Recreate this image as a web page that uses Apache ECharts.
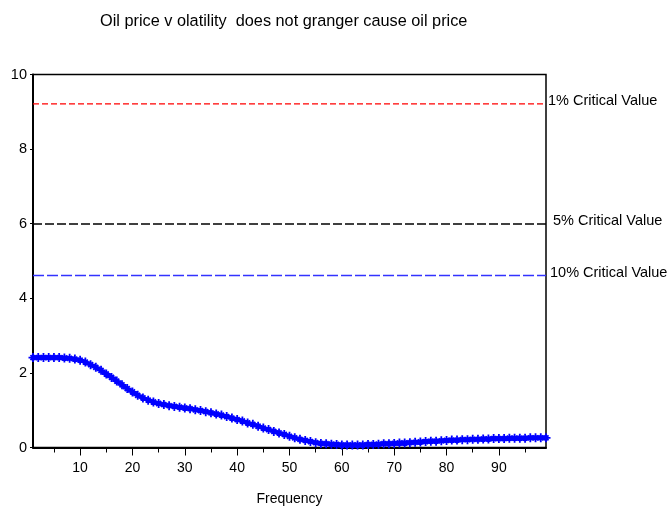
<!DOCTYPE html>
<html>
<head>
<meta charset="utf-8">
<script src="https://cdn.jsdelivr.net/npm/echarts@6/dist/echarts.min.js"></script>
<style>
html,body{margin:0;padding:0;background:#fff;}
#c{width:667px;height:511px;}
</style>
</head>
<body>
<div id="c"></div>
<script>
var titleText = 'Oil price v olatility  does not granger cause oil price';
var xName = 'Frequency';
var frequency = [];
for (var i = 1; i <= 99; i++) frequency.push(i);
var statValues = [
  2.41, 2.41, 2.41, 2.41, 2.41, 2.41, 2.40, 2.39, 2.37, 2.34,
  2.29, 2.22, 2.15, 2.07, 1.97, 1.88, 1.78, 1.68, 1.58, 1.49,
  1.40, 1.33, 1.27, 1.22, 1.18, 1.15, 1.12, 1.10, 1.08, 1.06,
  1.04, 1.01, 0.99, 0.96, 0.93, 0.90, 0.87, 0.83, 0.79, 0.75,
  0.71, 0.66, 0.62, 0.57, 0.52, 0.48, 0.43, 0.39, 0.35, 0.30,
  0.26, 0.22, 0.19, 0.16, 0.13, 0.11, 0.10, 0.09, 0.08, 0.07,
  0.07, 0.07, 0.07, 0.07, 0.08, 0.08, 0.09, 0.10, 0.10, 0.11,
  0.12, 0.12, 0.13, 0.14, 0.15, 0.16, 0.17, 0.17, 0.18, 0.19,
  0.20, 0.20, 0.21, 0.21, 0.22, 0.22, 0.23, 0.23, 0.24, 0.24,
  0.24, 0.25, 0.25, 0.25, 0.25, 0.26, 0.26, 0.26, 0.26
];
var critLabels = ['1% Critical Value', '5% Critical Value', '10% Critical Value'];
var critValues = [9.21, 5.99, 4.61];
var critColors = ['#ff0000', '#000000', '#3333ff'];
var critDash = [[6, 3], [9, 3], [11, 3]];
var critWidths = [1.2, 1.4, 1.5];
var critLabelOffsetX = [2, 7, 4];
var xMinorTicks = [5, 15, 25, 35, 45, 55, 65, 75, 85, 95];
var xMajorTicks = [10, 20, 30, 40, 50, 60, 70, 80, 90];

var FONT = '"Liberation Sans", Arial, sans-serif';
var chart = echarts.init(document.getElementById('c'));
var xMin = frequency[0], xMax = frequency[frequency.length - 1];
var seriesData = frequency.map(function (f, i) { return [f, statValues[i]]; });
var star = 'path://M-1,-5L1,-5L1,-1L5,-1L5,1L1,1L1,5L-1,5L-1,1L-5,1L-5,-1L-1,-1Z' +
  'M-3.5,-2.1L-2.1,-3.5L0,-1.4L2.1,-3.5L3.5,-2.1L1.4,0L3.5,2.1L2.1,3.5L0,1.4L-2.1,3.5L-3.5,2.1L-1.4,0Z';

var critSeries = critValues.map(function (v, i) {
  return {
    type: 'line',
    xAxisIndex: 0,
    data: [[xMin, v], [xMax, v]],
    showSymbol: false,
    silent: true,
    z: 1,
    color: critColors[i],
    itemStyle: { color: critColors[i] },
    lineStyle: { color: critColors[i], type: critDash[i], width: critWidths[i], opacity: 1 },
    endLabel: {
      show: true, formatter: critLabels[i], distance: critLabelOffsetX[i], offset: [0, -3],
      color: '#000', fontFamily: FONT, fontSize: 14.5
    }
  };
});

chart.setOption({
  animation: false,
  backgroundColor: '#fff',
  title: {
    text: titleText, left: 95, top: 9,
    textStyle: { fontFamily: FONT, fontSize: 16.3, fontWeight: 'normal', color: '#000' }
  },
  grid: {
    left: 33, right: 121, top: 74.5, bottom: 63.5,
    outerBoundsMode: 'none', containLabel: false,
    show: true, borderColor: '#000', borderWidth: 1.5, backgroundColor: 'transparent'
  },
  xAxis: [{
    type: 'value', min: xMin, max: xMax, position: 'bottom',
    name: xName, nameLocation: 'middle', nameGap: 45,
    nameTextStyle: { fontFamily: FONT, fontSize: 14, color: '#000' },
    axisLine: { show: true, onZero: false, lineStyle: { color: '#000', width: 2 } },
    axisTick: { show: true, inside: false, length: 5, customValues: xMinorTicks, lineStyle: { color: '#000', width: 1 } },
    axisLabel: { show: false },
    splitLine: { show: false }
  }, {
    type: 'value', min: xMin, max: xMax, position: 'bottom',
    axisLine: { show: false, onZero: false },
    axisTick: { show: true, inside: false, length: 8, customValues: xMajorTicks, lineStyle: { color: '#000', width: 1 } },
    axisLabel: { show: true, customValues: xMajorTicks, margin: 14, color: '#000', fontFamily: FONT, fontSize: 14 },
    splitLine: { show: false }
  }],
  yAxis: {
    type: 'value', min: 0, max: 10, interval: 2,
    axisLine: { show: true, onZero: false, lineStyle: { color: '#000', width: 2 } },
    axisTick: { show: true, inside: false, length: 3, lineStyle: { color: '#000', width: 1 } },
    axisLabel: { show: true, margin: 6, color: '#000', fontFamily: FONT, fontSize: 14.5, padding: [0, 0, 6, 0] },
    splitLine: { show: false }
  },
  series: critSeries.concat([{
    type: 'line',
    xAxisIndex: 0,
    data: seriesData,
    showSymbol: true,
    showAllSymbol: true,
    symbol: star,
    symbolSize: 9,
    z: 3,
    color: '#0000ff',
    itemStyle: { color: '#0000ff' },
    lineStyle: { color: '#0000ff', width: 4 },
    silent: true
  }])
});
</script>
</body>
</html>
